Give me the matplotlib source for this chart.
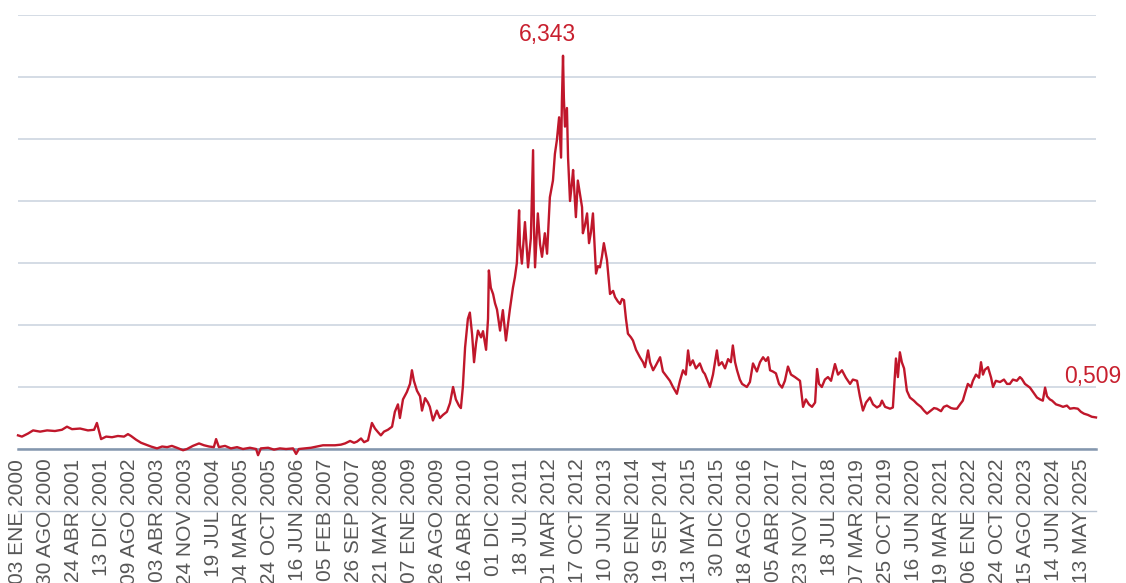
import matplotlib
matplotlib.use("Agg")
import matplotlib.pyplot as plt
from matplotlib.lines import Line2D

plt.rcParams['font.family'] = ['Liberation Sans', 'DejaVu Sans']

# x is the position along the axis in tick-label units (one unit per date label)
tick_labels = [
    "03 ENE 2000", "30 AGO 2000", "24 ABR 2001", "13 DIC 2001", "09 AGO 2002",
    "03 ABR 2003", "24 NOV 2003", "19 JUL 2004", "04 MAR 2005", "24 OCT 2005",
    "16 JUN 2006", "05 FEB 2007", "26 SEP 2007", "21 MAY 2008", "07 ENE 2009",
    "26 AGO 2009", "16 ABR 2010", "01 DIC 2010", "18 JUL 2011", "01 MAR 2012",
    "17 OCT 2012", "10 JUN 2013", "30 ENE 2014", "19 SEP 2014", "13 MAY 2015",
    "30 DIC 2015", "18 AGO 2016", "05 ABR 2017", "23 NOV 2017", "18 JUL 2018",
    "07 MAR 2019", "25 OCT 2019", "16 JUN 2020", "19 MAR 2021", "06 ENE 2022",
    "24 OCT 2022", "15 AGO 2023", "14 JUN 2024", "13 MAY 2025",
]

pos = [
    0.00, 0.14, 0.36, 0.54, 0.79, 1.04, 1.32, 1.57, 1.75, 1.93, 2.22, 2.50, 2.72, 2.82, 2.89,
    2.97, 3.15, 3.36, 3.57, 3.79, 3.93, 4.04, 4.22, 4.40, 4.57, 4.75, 4.97, 5.15, 5.33, 5.50,
    5.68, 5.90, 6.04, 6.25, 6.47, 6.65, 6.83, 7.00, 7.08, 7.18, 7.40, 7.61, 7.83, 8.04, 8.29,
    8.51, 8.58, 8.68, 8.94, 9.15, 9.36, 9.58, 9.83, 9.94, 10.04, 10.26, 10.47, 10.69, 10.90, 11.12,
    11.33, 11.54, 11.69, 11.87, 12.01, 12.12, 12.26, 12.37, 12.51, 12.65, 12.76, 12.87, 12.97, 13.08, 13.22,
    13.37, 13.47, 13.58, 13.65, 13.76, 13.90, 14.01, 14.08, 14.15, 14.26, 14.37, 14.44, 14.55, 14.65, 14.72,
    14.83, 14.97, 15.08, 15.19, 15.33, 15.44, 15.55, 15.65, 15.76, 15.83, 15.90, 15.98, 16.08, 16.15, 16.23,
    16.30, 16.37, 16.44, 16.55, 16.62, 16.73, 16.80, 16.83, 16.90, 16.98, 17.05, 17.12, 17.23, 17.33, 17.44,
    17.51, 17.58, 17.69, 17.76, 17.83, 17.91, 17.94, 18.01, 18.12, 18.19, 18.23, 18.33, 18.41, 18.44, 18.48,
    18.58, 18.66, 18.73, 18.83, 18.91, 19.01, 19.12, 19.19, 19.26, 19.34, 19.41, 19.44, 19.48, 19.51, 19.55,
    19.62, 19.66, 19.73, 19.80, 19.84, 19.94, 20.01, 20.09, 20.16, 20.19, 20.26, 20.34, 20.41, 20.48, 20.55,
    20.66, 20.73, 20.80, 20.87, 20.94, 21.05, 21.16, 21.27, 21.34, 21.44, 21.52, 21.59, 21.66, 21.73, 21.80,
    21.91, 21.98, 22.09, 22.23, 22.34, 22.41, 22.52, 22.59, 22.70, 22.80, 22.95, 23.05, 23.20, 23.30, 23.41,
    23.55, 23.66, 23.77, 23.87, 23.95, 24.02, 24.12, 24.23, 24.37, 24.48, 24.55, 24.66, 24.73, 24.84, 24.98,
    25.05, 25.16, 25.27, 25.38, 25.48, 25.55, 25.63, 25.70, 25.80, 25.88, 25.98, 26.05, 26.16, 26.27, 26.41,
    26.52, 26.63, 26.73, 26.81, 26.88, 26.98, 27.09, 27.20, 27.31, 27.41, 27.52, 27.63, 27.77, 27.95, 28.06,
    28.16, 28.27, 28.38, 28.49, 28.56, 28.63, 28.73, 28.84, 28.95, 29.06, 29.20, 29.31, 29.45, 29.59, 29.74,
    29.84, 29.99, 30.09, 30.20, 30.31, 30.45, 30.56, 30.70, 30.81, 30.88, 30.99, 31.17, 31.27, 31.38, 31.45,
    31.52, 31.59, 31.67, 31.77, 31.88, 32.02, 32.13, 32.27, 32.38, 32.49, 32.63, 32.74, 32.84, 32.99, 33.09,
    33.20, 33.35, 33.45, 33.56, 33.67, 33.77, 33.88, 33.95, 34.06, 34.13, 34.24, 34.35, 34.42, 34.49, 34.56,
    34.67, 34.78, 34.85, 34.95, 35.10, 35.24, 35.35, 35.45, 35.56, 35.70, 35.81, 35.88, 35.99, 36.17, 36.31,
    36.42, 36.53, 36.63, 36.71, 36.78, 36.88, 36.96, 37.10, 37.24, 37.35, 37.49, 37.60, 37.74, 37.88, 37.99,
    38.10, 38.24, 38.38, 38.53,
]

values = [
    0.22, 0.20, 0.25, 0.30, 0.28, 0.30, 0.29, 0.31, 0.36, 0.32, 0.33, 0.30, 0.31, 0.42, 0.30,
    0.16, 0.20, 0.19, 0.21, 0.20, 0.24, 0.21, 0.15, 0.10, 0.07, 0.04, 0.01, 0.04, 0.03, 0.05,
    0.02, -0.02, 0.00, 0.05, 0.09, 0.06, 0.04, 0.03, 0.16, 0.03, 0.05, 0.01, 0.03, 0.00, 0.02,
    0.00, -0.10, 0.01, 0.02, -0.01, 0.01, 0.00, 0.01, -0.08, 0.00, 0.01, 0.02, 0.04, 0.06, 0.06,
    0.06, 0.07, 0.09, 0.13, 0.10, 0.12, 0.17, 0.11, 0.14, 0.42, 0.33, 0.27, 0.22, 0.28, 0.31,
    0.36, 0.60, 0.72, 0.50, 0.80, 0.92, 1.05, 1.27, 1.10, 0.94, 0.85, 0.62, 0.82, 0.75, 0.68,
    0.46, 0.62, 0.50, 0.55, 0.60, 0.74, 1.00, 0.80, 0.70, 0.66, 1.00, 1.64, 2.10, 2.20, 1.85,
    1.40, 1.70, 1.91, 1.80, 1.90, 1.60, 2.10, 2.88, 2.60, 2.50, 2.35, 2.25, 1.91, 2.24, 1.75,
    2.00, 2.25, 2.60, 2.77, 3.00, 3.85, 3.30, 2.99, 3.66, 3.20, 2.93, 3.40, 4.82, 3.60, 2.93,
    3.80, 3.30, 3.10, 3.48, 3.15, 4.06, 4.33, 4.76, 4.98, 5.35, 4.70, 5.60, 6.343, 5.67, 5.20,
    5.50, 4.70, 4.00, 4.30, 4.50, 3.74, 4.33, 4.10, 3.90, 3.48, 3.60, 3.80, 3.32, 3.50, 3.80,
    2.83, 2.95, 2.93, 3.10, 3.32, 3.05, 2.50, 2.55, 2.45, 2.38, 2.34, 2.42, 2.40, 2.10, 1.86,
    1.80, 1.75, 1.60, 1.48, 1.40, 1.32, 1.59, 1.40, 1.27, 1.35, 1.48, 1.25, 1.16, 1.10, 1.00,
    0.89, 1.10, 1.27, 1.20, 1.59, 1.35, 1.43, 1.30, 1.38, 1.25, 1.21, 1.08, 1.00, 1.20, 1.59,
    1.35, 1.40, 1.30, 1.45, 1.40, 1.67, 1.40, 1.27, 1.12, 1.05, 1.02, 1.00, 1.08, 1.38, 1.25,
    1.40, 1.48, 1.42, 1.48, 1.27, 1.25, 1.22, 1.05, 0.99, 1.10, 1.33, 1.20, 1.16, 1.10, 0.68,
    0.80, 0.72, 0.68, 0.75, 1.29, 1.05, 1.00, 1.12, 1.16, 1.10, 1.37, 1.20, 1.27, 1.15, 1.05,
    1.12, 1.10, 0.85, 0.62, 0.75, 0.83, 0.72, 0.67, 0.70, 0.78, 0.68, 0.65, 0.67, 1.46, 1.16,
    1.56, 1.40, 1.30, 0.94, 0.83, 0.78, 0.73, 0.68, 0.62, 0.57, 0.62, 0.66, 0.65, 0.61, 0.68,
    0.70, 0.66, 0.65, 0.65, 0.72, 0.78, 0.95, 1.05, 1.00, 1.10, 1.20, 1.15, 1.40, 1.20, 1.28,
    1.32, 1.15, 1.00, 1.10, 1.08, 1.12, 1.05, 1.05, 1.12, 1.10, 1.16, 1.13, 1.05, 0.99, 0.90,
    0.83, 0.80, 0.78, 0.99, 0.85, 0.80, 0.78, 0.72, 0.70, 0.68, 0.70, 0.65, 0.66, 0.65, 0.60,
    0.57, 0.55, 0.52, 0.509,
]

line_color = "#c0172b"

fig = plt.figure(figsize=(11.26, 5.83), dpi=100)
ax = fig.add_axes([18 / 1126, 134 / 583, 1078 / 1126, 434 / 583])

ax.plot(pos, values, color=line_color, lw=1.7, clip_on=False, zorder=3)

ax.set_xlim(0, pos[-1])
ax.set_ylim(0, 7)
ax.set_yticks(range(8))
ax.yaxis.grid(True, color="#c9d2de", lw=1.1)
ax.set_yticklabels([])
ax.tick_params(axis="y", length=0)

ax.set_xticks(range(len(tick_labels)))
ax.set_xticklabels(tick_labels, rotation=90, fontsize=15, color="#575757")
ax.tick_params(axis="x", length=0, pad=7)

for s in ["top", "right", "left"]:
    ax.spines[s].set_visible(False)
ax.spines["bottom"].set_color("#8497ae")
ax.spines["bottom"].set_linewidth(1.8)
ax.set_axisbelow(True)

# peak and last value labels
i_max = values.index(max(values))
ax.annotate("6,343", (pos[i_max], values[i_max]), xytext=(-11, 7),
            textcoords="offset points", ha="center", va="bottom",
            color="#c8202f", fontsize=16.5)
ax.annotate("0,509", (pos[-1], values[-1]), xytext=(-23, 21),
            textcoords="offset points", ha="left", va="bottom",
            color="#c8202f", fontsize=16.5, annotation_clip=False)

# faint line crossing the date labels
fig.add_artist(Line2D([18 / 1126, 1096 / 1126], [1 - 511 / 583, 1 - 511 / 583],
                      color="#b9c4d2", lw=1, zorder=5))

fig.savefig("out.png", dpi=100)
